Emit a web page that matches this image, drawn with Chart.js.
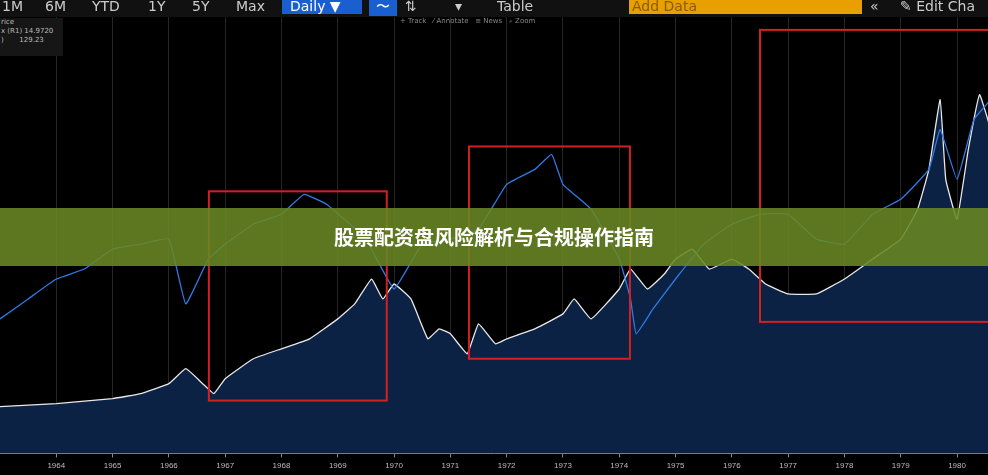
<!DOCTYPE html>
<html><head><meta charset="utf-8">
<script src="https://cdn.jsdelivr.net/npm/chart.js@4"></script>
<style>
body{margin:0;background:#000;width:988px;height:475px;overflow:hidden;position:relative;font-family:"DejaVu Sans",sans-serif}
#wrap{position:absolute;left:0;top:0;width:988px;height:475px}
.tb{position:absolute;top:0;left:0;height:17px;width:988px;background:#111;color:#ccc;font-size:14px}
.tb span{position:absolute;top:-2px}
.banner{position:absolute;left:0;top:208px;width:988px;height:58px;background:rgba(105,135,35,0.88);color:#fff;font:bold 20px "Noto Sans CJK SC";text-align:center;line-height:58px}
.leg{position:absolute;left:0;top:18px;width:62px;height:38px;background:#161616;color:#bbb;font-size:7px;line-height:9px;padding-left:1px}
</style></head><body>
<div id="wrap"><canvas id="c" width="988" height="475"></canvas></div>
<div class="tb">
<span style="left:2px">1M</span><span style="left:45px">6M</span><span style="left:92px">YTD</span><span style="left:148px">1Y</span><span style="left:192px">5Y</span><span style="left:236px">Max</span>
<span style="left:282px;background:#1a5fd0;color:#fff;padding:0 8px;width:64px">Daily ▼</span>
<span style="left:369px;background:#1a5fd0;color:#fff;width:28px;text-align:center">〜</span><span style="left:405px">⇅</span><span style="left:455px">▾</span>
<span style="left:497px">Table</span>
<span style="left:629px;background:#e8a000;color:#8a5a00;width:230px;padding-left:3px">Add Data</span>
<span style="left:870px">«</span><span style="left:900px">✎ Edit Cha</span>
</div>
<div style="position:absolute;left:400px;top:17px;color:#888;font-size:7px">+ Track &nbsp; ⁄ Annotate &nbsp; ≡ News &nbsp; ⌕ Zoom</div>
<div class="leg">rice<br>x (R1) 14.9720<br>) &nbsp;&nbsp;&nbsp;&nbsp;&nbsp;&nbsp;129.23</div>
<div class="banner">股票配资盘风险解析与合规操作指南</div>
<script>
const years=[1964,1965,1966,1967,1968,1969,1970,1971,1972,1973,1974,1975,1976,1977,1978,1979,1980];
const whiteX=[1963,1964,1965,1965.5,1966,1966.3,1966.6,1966.8,1967,1967.5,1968,1968.5,1969,1969.3,1969.6,1969.8,1970,1970.3,1970.6,1970.8,1971,1971.3,1971.5,1971.8,1972,1972.5,1973,1973.2,1973.5,1974,1974.2,1974.5,1974.8,1975,1975.3,1975.6,1976,1976.3,1976.6,1977,1977.5,1978,1978.5,1979,1979.3,1979.5,1979.7,1979.8,1980,1980.2,1980.4,1980.6];
const whiteY=[67,70,75,80,90,105,90,80,95,115,125,135,155,170,195,175,190,175,135,145,140,120,150,130,135,145,160,175,155,185,205,185,200,215,225,205,215,205,190,180,180,195,215,235,265,305,375,295,255,325,380,345];
const blueX=[1963,1963.5,1964,1964.5,1965,1965.5,1966,1966.3,1966.7,1967,1967.5,1968,1968.4,1968.8,1969.5,1970,1970.5,1971,1971.5,1972,1972.5,1972.8,1973,1973.5,1974,1974.2,1974.3,1974.6,1975,1975.5,1976,1976.5,1977,1977.5,1978,1978.5,1979,1979.5,1979.7,1980,1980.3,1980.6];
const blueY=[155,175,195,205,225,230,235,170,215,230,250,260,280,270,235,185,230,235,245,290,305,320,290,265,215,175,140,165,195,230,250,260,260,235,230,260,275,305,345,295,355,375];
const boxes=[[1966.71,1969.87,73,283],[1971.33,1974.19,115,328],[1976.5,1981,152,445]];
const pts=(xs,ys)=>xs.map((x,i)=>({x,y:ys[i]}));
const boxPlugin={id:'boxes',afterDatasetsDraw(ch){const {ctx,scales:{x,y}}=ch;ctx.save();ctx.strokeStyle='#d42020';ctx.lineWidth=2;
boxes.forEach(b=>{const x0=x.getPixelForValue(b[0]),x1=x.getPixelForValue(b[1]),y0=y.getPixelForValue(b[3]),y1=y.getPixelForValue(b[2]);ctx.strokeRect(x0,y0,x1-x0,y1-y0);});ctx.restore();}};
new Chart(document.getElementById('c'),{type:'line',
data:{datasets:[
{data:pts(blueX,blueY),borderColor:'#2f7be8',borderWidth:1.3,pointRadius:0,tension:0.1,order:0},
{data:pts(whiteX,whiteY),borderColor:'#e8e8e8',borderWidth:1.3,pointRadius:0,tension:0.1,fill:'origin',backgroundColor:'#0c2244',order:1}]},
options:{responsive:false,animation:false,layout:{padding:0},plugins:{legend:{display:false},tooltip:{enabled:false}},
scales:{x:{type:'linear',min:1963,max:1980.55,afterBuildTicks:s=>{s.ticks=years.map(v=>({value:v}));},
ticks:{color:'#bbb',font:{size:8},maxRotation:0,autoSkip:false,padding:4,callback:v=>String(v)},grid:{color:'#262626',tickColor:'#888',tickLength:4},border:{color:'#888'}},
y:{display:false,min:20,max:475}}},plugins:[boxPlugin]});
</script></body></html>
